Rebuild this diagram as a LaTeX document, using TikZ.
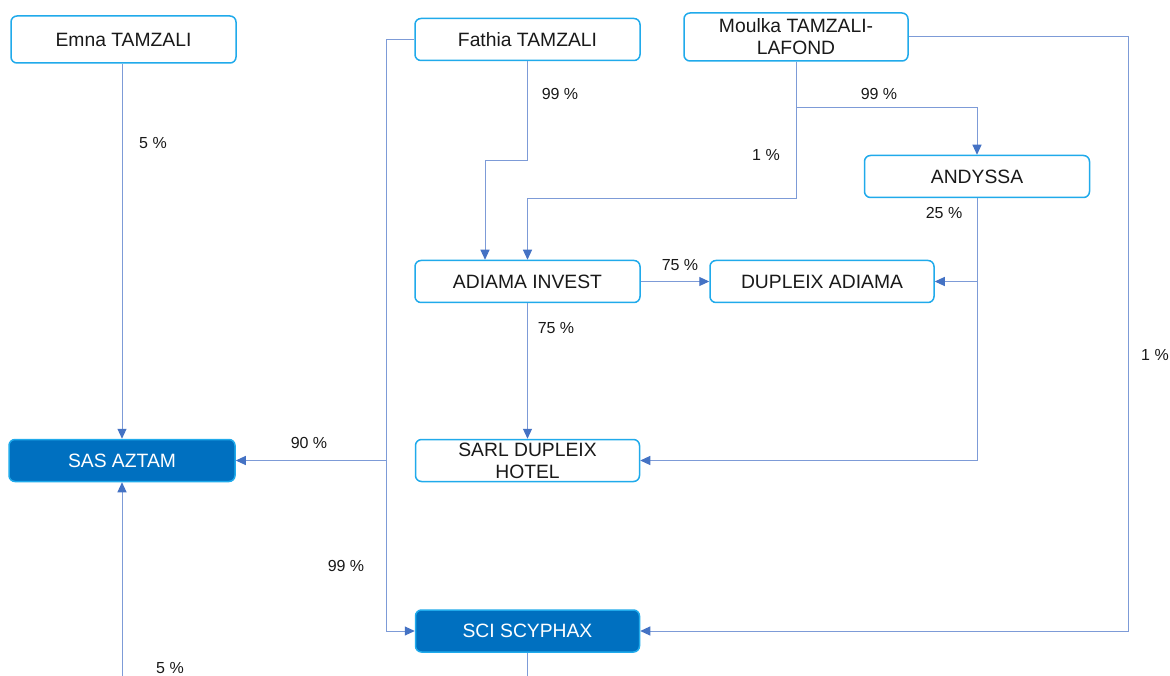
\documentclass[tikz,border=0pt]{standalone}
\usepackage{fontspec}
\setmainfont{Liberation Sans}
\usetikzlibrary{arrows.meta}
\definecolor{boxline}{RGB}{32,170,235}
\definecolor{boxfill}{RGB}{0,112,192}
\definecolor{conn}{RGB}{125,155,215}
\definecolor{tipc}{RGB}{68,114,196}
\definecolor{txt}{RGB}{25,25,25}
\begin{document}
\begin{tikzpicture}[x=1pt,y=-1pt,
  ent/.style={draw=boxline, line width=1.5pt, rounded corners=6pt, fill=white,
    minimum width=225pt, minimum height=42pt, inner sep=0pt,
    font=\fontsize{19.3}{22}\selectfont, align=center, text=txt},
  dark/.style={ent, fill=boxfill, text=white},
  lnk/.style={draw=conn, line width=1pt},
  arr/.style={lnk, -{Triangle[length=10pt,width=9pt,color=tipc]}},
  pct/.style={font=\fontsize{16}{19}\selectfont, inner sep=0pt, text=txt}]
\useasboundingbox (0,0) rectangle (1170,676);
\fill[white] (0,0) rectangle (1170,676);

% entities
\node[ent, minimum height=47pt] (emna) at (123.5,39.5) {Emna TAMZALI};
\node[ent] (fathia) at (527.5,39.5) {Fathia TAMZALI};
\node[ent, minimum width=224pt, minimum height=48pt] (moulka) at (796,37) {Moulka TAMZALI-\\LAFOND};
\node[ent] (andyssa) at (977,176.5) {ANDYSSA};
\node[ent] (adiama) at (527.5,281.5) {ADIAMA INVEST};
\node[ent, minimum width=224pt] (duplex) at (822,281.5) {DUPLEIX ADIAMA};
\node[ent, minimum width=224pt] (sarl) at (527.5,460.5) {SARL DUPLEIX\\HOTEL};
\node[dark, minimum width=224pt] (sci) at (527.5,631) {SCI SCYPHAX};
\node[dark, minimum width=226pt] (sas) at (122,460.5) {SAS AZTAM};

% helper coordinates
\coordinate (vx) at (386,0);
\coordinate (f1) at (485,161);
\coordinate (m1) at (977,108);
\coordinate (m2) at (527.5,199);
\coordinate (rx) at (1128,37);
\coordinate (bot1) at (122,676);
\coordinate (bot2) at (527.5,676);

% connectors
\draw[arr] (emna.south -| sas.north) -- (sas.north);
\draw[arr] (bot1) -- (sas.south);
\draw[arr] (fathia.west) -- (fathia.west -| vx) -- (vx |- sci.west) -- (sci.west);
\draw[arr] (vx |- sas.east) -- (sas.east);
\draw[arr] (fathia.south) |- (f1) -- (f1 |- adiama.north);
\draw[arr] (moulka.south) |- (m1) -- (andyssa.north);
\draw[arr] (moulka.south) |- (m2) -- (adiama.north);
\draw[arr] (adiama.east) -- (duplex.west);
\draw[arr] (andyssa.south) |- (duplex.east);
\draw[arr] (andyssa.south) |- (sarl.east);
\draw[arr] (adiama.south) -- (sarl.north);
\draw[arr] (moulka.east) -- (rx) |- (sci.east);
\draw[lnk] (sci.south) -- (bot2);

% percentages
\node[pct] (p1) at (153,143) {5 \%};
\node[pct] (p2) at (170,668) {5 \%};
\node[pct] (p3) at (309,443) {90 \%};
\node[pct] (p4) at (346,566) {99 \%};
\node[pct] (p5) at (560,94) {99 \%};
\node[pct] (p6) at (879,94) {99 \%};
\node[pct] (p7) at (766,155) {1 \%};
\node[pct] (p8) at (680,265) {75 \%};
\node[pct] (p9) at (944,213) {25 \%};
\node[pct] (p10) at (556,328) {75 \%};
\node[pct] (p11) at (1155,355) {1 \%};
\end{tikzpicture}
\end{document}
